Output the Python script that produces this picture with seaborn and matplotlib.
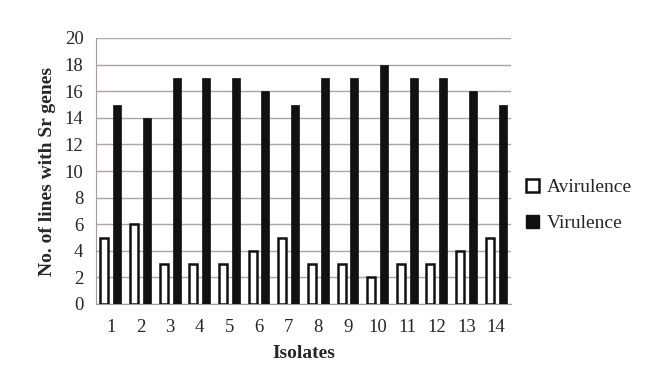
import matplotlib
matplotlib.use("Agg")
import matplotlib.pyplot as plt
import seaborn as sns
import pandas as pd
from matplotlib.patches import Patch

isolates = ["1", "2", "3", "4", "5", "6", "7", "8", "9", "10", "11", "12", "13", "14"]
avirulence = [5, 6, 3, 3, 3, 4, 5, 3, 3, 2, 3, 3, 4, 5]
virulence = [15, 14, 17, 17, 17, 16, 15, 17, 17, 18, 17, 17, 16, 15]
series = ["Avirulence", "Virulence"]

df = pd.DataFrame({
    "Isolate": isolates * 2,
    "Count": avirulence + virulence,
    "Series": [series[0]] * len(isolates) + [series[1]] * len(isolates),
})

sns.set_style("white")
plt.rcParams["font.family"] = ["Liberation Serif", "DejaVu Serif"]

fig = plt.figure(figsize=(6.6, 3.89), dpi=100)
ax = fig.add_axes([96 / 660, 1 - 304 / 389, (511 - 96) / 660, (304 - 38) / 389])

sns.barplot(data=df, x="Isolate", y="Count", hue="Series", order=isolates,
            hue_order=series, palette={"Avirulence": "white", "Virulence": "#111111"},
            width=0.87, gap=0.38, ax=ax, legend=False, zorder=3)

for p in ax.patches:
    p.set_edgecolor("#111111")
    if p.get_facecolor()[0] > 0.5:
        p.set_linewidth(1.8)
    else:
        p.set_linewidth(0.5)

ax.set_ylim(0, 20)
ax.set_xlim(-0.5, len(isolates) - 0.5)
ax.set_yticks(range(0, 21, 2))
ax.yaxis.grid(True, color="#b0a3a3", linewidth=1.0, zorder=0)
ax.set_axisbelow(True)
for s in ["top", "right"]:
    ax.spines[s].set_visible(False)
ax.spines["left"].set_color("#a89a9a")
ax.spines["bottom"].set_color("#a89a9a")

ax.set_xticks([i - 0.5 for i in range(len(isolates) + 1)], minor=False)
ax.set_xticklabels([])
ax.set_xticks(range(len(isolates)), minor=True)
ax.set_xticklabels(isolates, minor=True, fontsize=13.5)
ax.tick_params(axis="x", which="major", direction="out", length=5, color="#a89a9a", width=1)
ax.tick_params(axis="x", which="minor", length=0, pad=11)
ax.tick_params(axis="y", direction="out", length=5, color="#a89a9a", width=1, labelsize=13.5, pad=4)

ax.set_xlabel("Isolates", fontsize=14, fontweight="bold", labelpad=6)
ax.set_ylabel("No. of lines with Sr genes", fontsize=14, fontweight="bold", labelpad=6)

handles = [Patch(facecolor="white", edgecolor="#111111", linewidth=1.8, label="Avirulence"),
           Patch(facecolor="#111111", edgecolor="#111111", label="Virulence")]
ax.legend(handles=handles, loc="center left", bbox_to_anchor=(0.995, 0.37), frameon=False,
          fontsize=14, handlelength=0.65, handleheight=0.65, handletextpad=0.4, labelspacing=0.95)

fig.savefig("out.png", dpi=100)
